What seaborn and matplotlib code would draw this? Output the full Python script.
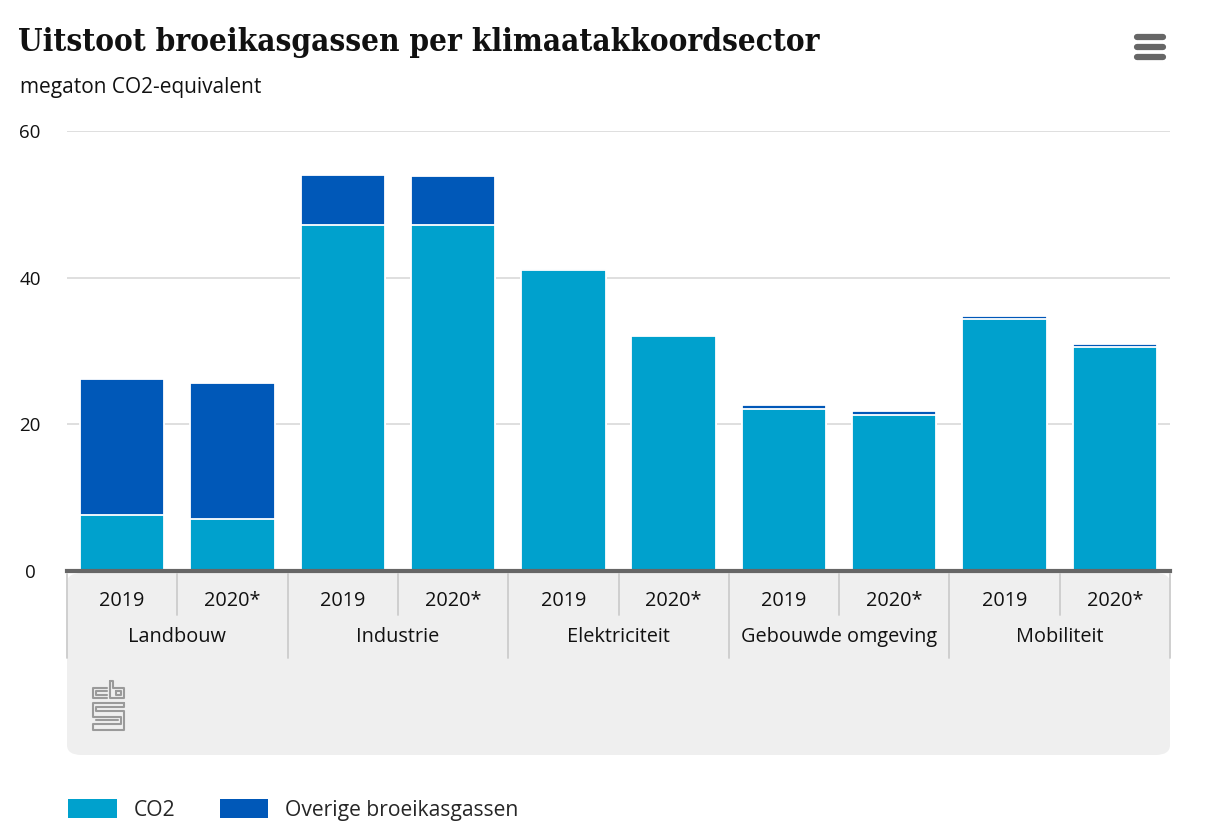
import numpy as np
import pandas as pd
import matplotlib
matplotlib.use("Agg")
import matplotlib.pyplot as plt
import matplotlib.transforms as mtransforms
from matplotlib.patches import FancyBboxPatch, Patch
import seaborn as sns

# --- data (megaton CO2-equivalent) ---
sectoren = ["Landbouw", "Industrie", "Elektriciteit", "Gebouwde omgeving", "Mobiliteit"]
jaren = ["2019", "2020*"]
co2 = [7.6, 7.1, 47.2, 47.2, 41.0, 32.0, 22.1, 21.3, 34.4, 30.5]
overige = [18.6, 18.6, 6.8, 6.7, 0.2, 0.1, 0.5, 0.5, 0.4, 0.45]
yticks = [0, 20, 40, 60]

CO2_KLEUR = "#00a1cd"
OVERIG_KLEUR = "#0058b8"
TEKST_FONT = ["Open Sans", "DejaVu Sans"]

W, H = 1215, 834

df = pd.DataFrame({
    "sector": [s for s in sectoren for _ in jaren],
    "jaar": jaren * len(sectoren),
    "co2": co2,
    "overige": overige,
})
df["totaal"] = df["co2"] + df["overige"]
df["slot"] = df["sector"] + " " + df["jaar"]

sns.set_theme(style="white")
plt.rcParams["font.family"] = TEKST_FONT

fig = plt.figure(figsize=(W / 100, H / 100), dpi=100)

def fx(px):
    return px / W

def fy(py):
    return 1 - py / H

ax = fig.add_axes([fx(67), fy(571), fx(1170) - fx(67), fy(131) - fy(571)])

# stacked bars: total (overige colour) behind, co2 in front
sns.barplot(data=df, x="slot", y="totaal", order=list(df["slot"]), color=OVERIG_KLEUR,
            saturation=1, width=0.765, edgecolor="white", linewidth=1.3, ax=ax, zorder=2)
sns.barplot(data=df, x="slot", y="co2", order=list(df["slot"]), color=CO2_KLEUR,
            saturation=1, width=0.765, edgecolor="white", linewidth=1.3, ax=ax, zorder=3)

ax.set_xlim(-0.5, len(df) - 0.5)
ax.set_ylim(0, 60)
ax.set_yticks(yticks)
ax.set_xticks([])
ax.set_xlabel("")
ax.set_ylabel("")
ax.yaxis.grid(True, color="#d9d9d9", linewidth=1.2, zorder=0)
ax.set_axisbelow(True)
for s in ["top", "right", "left"]:
    ax.spines[s].set_visible(False)
ax.spines["bottom"].set_color("#666666")
ax.spines["bottom"].set_linewidth(3)
ax.spines["bottom"].set_zorder(5)
ax.tick_params(axis="y", length=0, pad=0, labelsize=13.5, labelcolor="#111111")
for lab in ax.get_yticklabels():
    lab.set_horizontalalignment("center")
    lab.set_x(fx(30 - 67) / (fx(1170) - fx(67)))

# grey category box under the axis (drawn behind the axes)
box = FancyBboxPatch((fx(67), fy(755)), fx(1170) - fx(67), fy(573) - fy(755),
                     boxstyle="round,pad=0,rounding_size=0.012", transform=fig.transFigure,
                     facecolor="#efefef", edgecolor="none", zorder=-5)
fig.patches.append(box)

trans = mtransforms.blended_transform_factory(ax.transData, fig.transFigure)
n = len(df)
for i in range(n + 1):
    xpos = i - 0.5
    bottom = fy(658) if i % 2 == 0 else fy(615)
    ax.plot([xpos, xpos], [fy(574), bottom], color="#cccccc", linewidth=1.3,
            transform=trans, clip_on=False, zorder=1)
for i, jaar in enumerate(df["jaar"]):
    ax.text(i, fy(601), jaar, transform=trans, ha="center", va="center",
            fontsize=14.3, color="#111111", clip_on=False)
for j, sector in enumerate(sectoren):
    ax.text(2 * j + 0.5, fy(637), sector, transform=trans, ha="center", va="center",
            fontsize=14.3, color="#111111", clip_on=False)

# cbs logo (simplified)
logo = [
    [(107, 688), (93, 688), (93, 698), (107, 698)],
    [(107, 691), (96, 691), (96, 695), (107, 695)],
    [(110, 681), (110, 698), (124, 698), (124, 688), (113, 688), (113, 681), (110, 681)],
    [(116, 691), (121, 691), (121, 695), (116, 695), (116, 691)],
    [(124, 703), (93, 703), (93, 717), (121, 717), (121, 724), (93, 724), (93, 730), (124, 730), (124, 711), (96, 711), (96, 707), (124, 707), (124, 703)],
    [(96, 720), (118, 720)],
]
for pts in logo:
    xs = [fx(p[0]) for p in pts]
    ys = [fy(p[1]) for p in pts]
    fig.add_artist(plt.Line2D(xs, ys, color="#9a9a9a", linewidth=1.5, transform=fig.transFigure))

# hamburger menu
for yy in [37, 47, 57]:
    fig.add_artist(plt.Line2D([fx(1137), fx(1163)], [fy(yy), fy(yy)], color="#666666",
                              linewidth=4.5, solid_capstyle="round", transform=fig.transFigure))

# titles
titel = fig.text(fx(18), fy(42), "Uitstoot broeikasgassen per klimaatakkoordsector",
                 fontsize=22, fontweight="bold", family=["DejaVu Serif"], fontstretch="condensed",
                 color="#111111", va="center", ha="left")
fig.canvas.draw()
bb = titel.get_window_extent()
titel.set_fontsize(22 * 800 / bb.width)

fig.text(fx(20), fy(88), "megaton CO2-equivalent", fontsize=15, color="#111111",
         va="center", ha="left")

# legend
handles = [Patch(facecolor=CO2_KLEUR, edgecolor="none", label="CO2"),
           Patch(facecolor=OVERIG_KLEUR, edgecolor="none", label="Overige broeikasgassen")]
fig.legend(handles=handles, loc="center left", bbox_to_anchor=(fx(60), fy(810)), ncol=2,
           frameon=False, fontsize=15.2, handlelength=2.3, handleheight=1.0,
           handletextpad=0.8, columnspacing=2.1, borderaxespad=0)

fig.savefig("out.png", dpi=100, facecolor="white")
